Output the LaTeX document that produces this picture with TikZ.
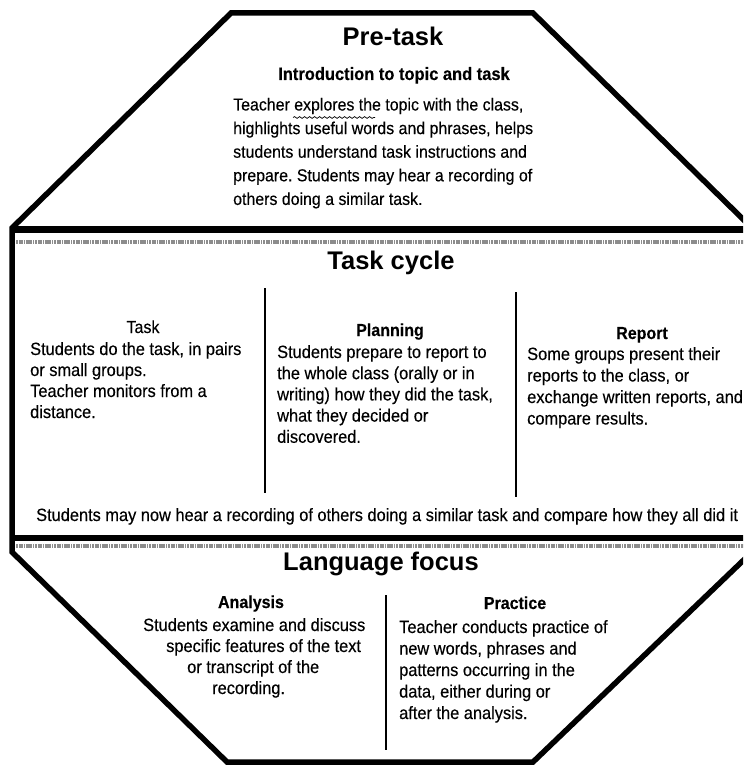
\documentclass[tikz,border=0pt]{standalone}
\usepackage{fontspec}
\setmainfont{Liberation Sans}
\newfontfamily\bodyfont{Liberation Sans}[FakeStretch=0.92,FakeBold=0.3]
\frenchspacing
\usetikzlibrary{decorations.pathmorphing}
\begin{document}
\begin{tikzpicture}[x=1pt,y=-1pt,
  frame/.style={line width=5.5pt, line join=miter},
  bandline/.style={line width=#1},
  noise/.style={line width=3.5pt, black!45, dash pattern=on 2pt off 0.7pt on 4pt off 1pt on 1pt off 0.8pt},
  coldiv/.style={line width=1.2pt},
  title/.style={anchor=base, inner sep=0pt, font=\bfseries\fontsize{25.5}{30}\selectfont},
  subtitle/.style={anchor=base, inner sep=0pt, font=\bodyfont\bfseries\fontsize{17.9}{22}\selectfont},
  colhead/.style={anchor=base, inner sep=0pt, font=\bodyfont\bfseries\fontsize{17.4}{21}\selectfont},
  colheadreg/.style={anchor=base, inner sep=0pt, font=\bodyfont\fontsize{17.4}{21}\selectfont},
  bodyline/.style={anchor=base west, inner sep=0pt, font=\bodyfont\fontsize{17.8}{21}\selectfont},
  preline/.style={anchor=base west, inner sep=0pt, font=\bodyfont\fontsize{17.3}{24}\selectfont}
]
\useasboundingbox (0,0) rectangle (743,767);
\begin{scope}
\clip (0,0) rectangle (743,767);
% octagon outline
\draw[frame] (231,13) -- (533,13) -- (752,228) -- (752,552) -- (533,762)
  -- (227,762) -- (12,552) -- (12,228) -- cycle;
% band dividers
\draw[bandline=7pt] (12,229) -- (752,229);
\draw[noise] (16,242) -- (752,242);
\draw[bandline=6pt] (12,538) -- (752,538);
\draw[noise] (16,546) -- (752,546);

% ---- Pre-task ----
\node[title] (pretask) at (393,46) {Pre-task};
\node[subtitle] (intro) at (394,80) {Introduction to topic and task};
\foreach \t [count=\i] in {{Teacher explores the topic with the class,},
  {highlights useful words and phrases, helps},
  {students understand task instructions and},
  {prepare. Students may hear a recording of},
  {others doing a similar task.}}
  \node[preline] (pre\i) at (233,{110.5+23.6*(\i-1)}) {\t};
\coordinate (squigA) at (293,117.5);
\coordinate (squigB) at (375,117.5);
\draw[line width=0.7pt, decorate, decoration={snake, segment length=5pt, amplitude=0.9pt}] (squigA) -- (squigB);

% ---- Task cycle ----
\node[title] (taskcycle) at (391,269) {Task cycle};
\coordinate (d1t) at (265,288); \coordinate (d1b) at (265,493);
\coordinate (d2t) at (516,292); \coordinate (d2b) at (516,497);
\draw[coldiv] (d1t) -- (d1b);
\draw[coldiv] (d2t) -- (d2b);

\node[colheadreg] (taskh) at (143,333) {Task};
\foreach \t [count=\i] in {{Students do the task, in pairs},
  {or small groups.},
  {Teacher monitors from a},
  {distance.}}
  \node[bodyline] (task\i) at (30,{355+21*(\i-1)}) {\t};

\node[colhead] (planh) at (390,336) {Planning};
\foreach \t [count=\i] in {{Students prepare to report to},
  {the whole class (orally or in},
  {writing) how they did the task,},
  {what they decided or},
  {discovered.}}
  \node[bodyline] (plan\i) at (277,{358+21.2*(\i-1)}) {\t};

\node[colhead] (reph) at (642,339) {Report};
\foreach \t [count=\i] in {{Some groups present their},
  {reports to the class, or},
  {exchange written reports, and},
  {compare results.}}
  \node[bodyline] (rep\i) at (527,{360+21.5*(\i-1)}) {\t};

\node[bodyline] (after) at (36,521) {Students may now hear a recording of others doing a similar task and compare how they all did it};

% ---- Language focus ----
\node[title] (langfocus) at (381,570) {Language focus};
\coordinate (d3t) at (386,595); \coordinate (d3b) at (386,750);
\draw[coldiv] (d3t) -- (d3b);

\node[colhead] (anah) at (251,608) {Analysis};
\node[bodyline] (ana1) at (143,631) {Students examine and discuss};
\node[bodyline] (ana2) at (166,652) {specific features of the text};
\node[bodyline] (ana3) at (187,673) {or transcript of the};
\node[bodyline] (ana4) at (212,694) {recording.};

\node[colhead] (prah) at (515,609) {Practice};
\foreach \t [count=\i] in {{Teacher conducts practice of},
  {new words, phrases and},
  {patterns occurring in the},
  {data, either during or},
  {after the analysis.}}
  \node[bodyline] (pra\i) at (399,{633+21.5*(\i-1)}) {\t};
\end{scope}
\end{tikzpicture}
\end{document}
